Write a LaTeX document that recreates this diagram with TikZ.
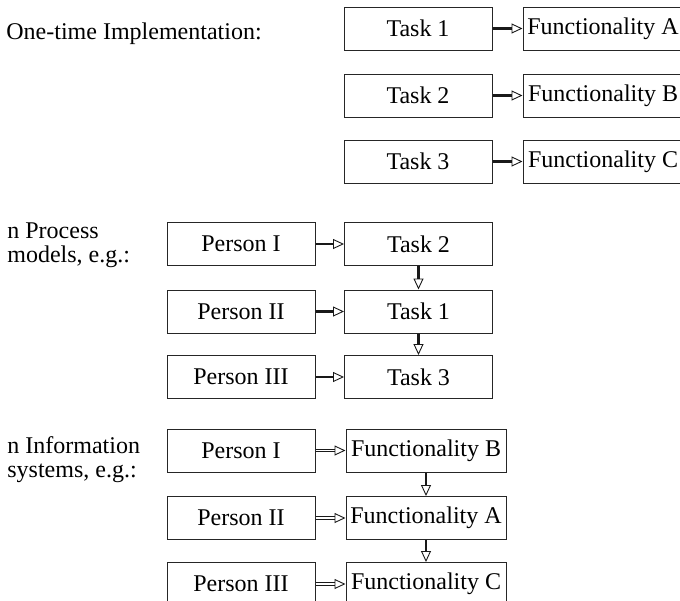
\documentclass[tikz,border=0pt]{standalone}
\usepackage{fontspec}
\setmainfont{Liberation Serif}
\usetikzlibrary{arrows.meta}

\begin{document}
\begin{tikzpicture}[x=0.5pt,y=-0.5pt,
  box/.style={draw=black!85,line width=0.5pt,inner sep=0pt,minimum height=21.5pt,font=\fontsize{12}{12}\selectfont},
  taskbox/.style={box,minimum width=74pt},
  funcbox/.style={box,minimum width=80pt},
  lbl/.style={inner sep=0pt,align=left,font=\fontsize{12}{12}\selectfont},
  flow/.style={-{Triangle[open,length=5.5pt,width=5pt,line width=0.45pt]},line width=1.4pt,black!90},
  dflow/.style={flow,double,double distance=0.7pt,line width=0.6pt}]
  \useasboundingbox (0,0) rectangle (680,600);
  % One-time implementation
  \node[lbl,anchor=base west] (onetime) at (6,39) {One-time Implementation:};
  \node[taskbox] (ta) at (418,28.5) {Task 1};
  \node[taskbox] (tb) at (418,95.5) {Task 2};
  \node[taskbox] (tc) at (418,161.5) {Task 3};
  \node[funcbox] (fa) at (603,28.5) {Functionality A};
  \node[funcbox] (fb) at (603,95.5) {Functionality B};
  \node[funcbox] (fc) at (603,161.5) {Functionality C};
  \draw[flow] (ta) -- (fa);
  \draw[flow] (tb) -- (fb);
  \draw[flow] (tc) -- (fc);
  % Process models
  \node[lbl,anchor=north west] (procmod) at (7,222) {n Process\\models, e.g.:};
  \node[taskbox] (pma) at (241,244) {Person I};
  \node[taskbox] (pmb) at (241,311.5) {Person II};
  \node[taskbox] (pmc) at (241,377) {Person III};
  \node[taskbox] (pmtb) at (418.5,244) {Task 2};
  \node[taskbox] (pmta) at (418.5,311.5) {Task 1};
  \node[taskbox] (pmtc) at (418.5,377) {Task 3};
  \draw[flow] (pma) -- (pmtb);
  \draw[flow] (pmb) -- (pmta);
  \draw[flow] (pmc) -- (pmtc);
  \draw[flow] (pmtb) -- (pmta);
  \draw[flow] (pmta) -- (pmtc);
  % Information systems
  \node[lbl,anchor=north west] (infosys) at (7,436) {n Information\\systems, e.g.:};
  \node[taskbox] (isa) at (241,450.5) {Person I};
  \node[taskbox] (isb) at (241,518) {Person II};
  \node[taskbox] (isc) at (241,584) {Person III};
  \node[funcbox] (isfb) at (426,450.5) {Functionality B};
  \node[funcbox] (isfa) at (426,518) {Functionality A};
  \node[funcbox] (isfc) at (426,584) {Functionality C};
  \draw[dflow] (isa) -- (isfb);
  \draw[dflow] (isb) -- (isfa);
  \draw[dflow] (isc) -- (isfc);
  \draw[flow] (isfb) -- (isfa);
  \draw[flow] (isfa) -- (isfc);
\end{tikzpicture}
\end{document}
